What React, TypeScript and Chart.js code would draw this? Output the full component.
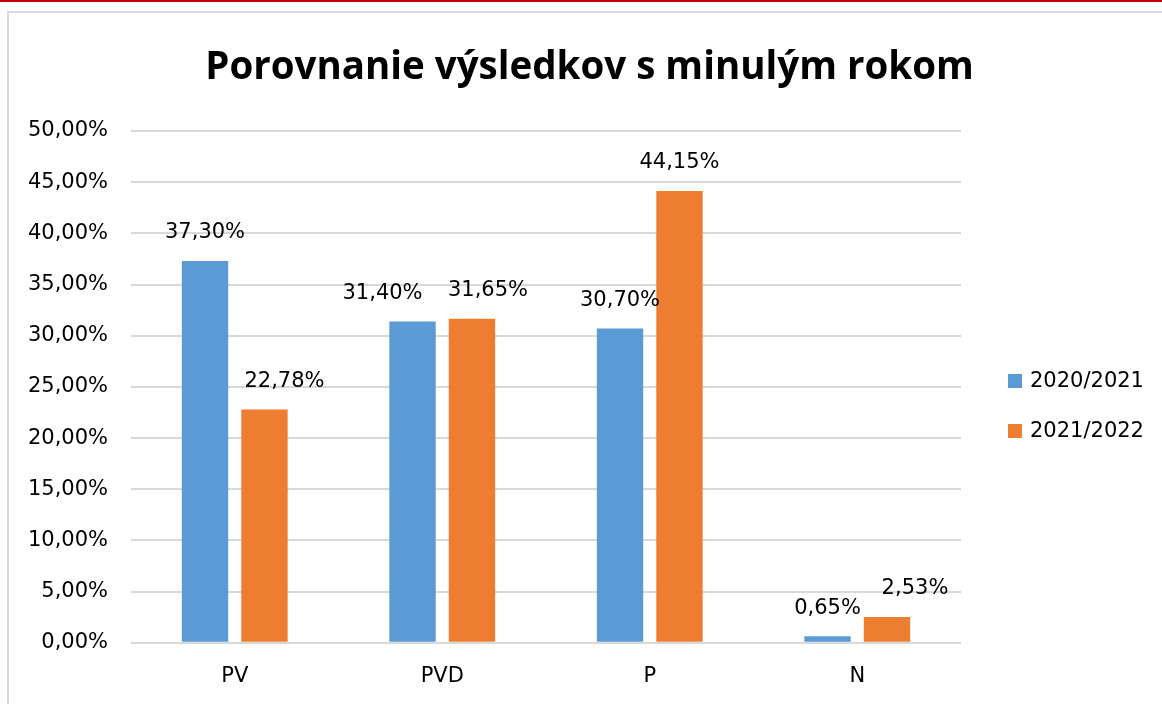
import React, { useEffect, useRef } from "react";
import { Chart, registerables } from "chart.js";

Chart.register(...registerables);

const TITLE = "Porovnanie výsledkov s minulým rokom";
const categories = ["PV", "PVD", "P", "N"];
const seriesNames = ["2020/2021", "2021/2022"];
const values2020_2021 = [37.3, 31.4, 30.7, 0.65];
const values2021_2022 = [22.78, 31.65, 44.15, 2.53];
const yMin = 0;
const yMax = 50;
const yStep = 5;

const COLORS = ["#5B9BD5", "#ED7D31"];
const LABEL_DX = [
  [0, -30, 0, 0],
  [20, 16, 0, 28],
];
const FONT = "'DejaVu Sans', sans-serif";
const TEXT_COLOR = "#000000";

const fmtPct = (v: number) => v.toFixed(2).replace(".", ",") + "%";

const decorPlugin = {
  id: "decor",
  afterDatasetsDraw(chart: any) {
    const ctx = chart.ctx;
    ctx.save();
    ctx.font = `21px ${FONT}`;
    ctx.fillStyle = TEXT_COLOR;
    ctx.textAlign = "center";
    ctx.textBaseline = "middle";
    chart.data.datasets.forEach((ds: any, i: number) => {
      const meta = chart.getDatasetMeta(i);
      meta.data.forEach((el: any, j: number) => {
        const v = ds.data[j];
        ctx.fillText(fmtPct(v), el.x + LABEL_DX[i][j], el.y - 28);
      });
    });
    ctx.restore();
  },
  afterDraw(chart: any) {
    const ctx = chart.ctx;
    const area = chart.chartArea;
    ctx.save();
    ctx.font = `bold 38.5px 'Open Sans', sans-serif`;
    ctx.fillStyle = "#000000";
    ctx.textAlign = "center";
    ctx.textBaseline = "middle";
    ctx.fillText(TITLE, chart.width / 2 + 4, 55);
    ctx.font = `21px ${FONT}`;
    ctx.textAlign = "left";
    chart.data.datasets.forEach((ds: any, i: number) => {
      const cy = 368 + i * 50;
      const bx = area.right + 47;
      ctx.fillStyle = ds.backgroundColor;
      ctx.fillRect(bx, cy - 7, 14, 14);
      ctx.fillStyle = TEXT_COLOR;
      ctx.fillText(ds.label, bx + 22, cy + 1);
    });
    ctx.restore();
  },
};

export default function App() {
  const canvasRef = useRef<HTMLCanvasElement | null>(null);

  useEffect(() => {
    if (!canvasRef.current) return;
    const chart = new Chart(canvasRef.current, {
      type: "bar",
      data: {
        labels: categories,
        datasets: [
          {
            label: seriesNames[0],
            data: values2020_2021,
            backgroundColor: COLORS[0],
            categoryPercentage: 0.573,
            barPercentage: 0.78,
          },
          {
            label: seriesNames[1],
            data: values2021_2022,
            backgroundColor: COLORS[1],
            categoryPercentage: 0.573,
            barPercentage: 0.78,
          },
        ],
      },
      options: {
        animation: false,
        responsive: true,
        maintainAspectRatio: false,
        layout: { padding: { top: 118, right: 201, bottom: -6, left: 0 } },
        plugins: {
          legend: { display: false },
          title: { display: false },
          tooltip: { enabled: false },
        },
        scales: {
          x: {
            grid: { display: false, drawTicks: false },
            border: { display: false },
            ticks: {
              padding: 21,
              color: TEXT_COLOR,
              font: { family: FONT, size: 21 },
            },
          },
          y: {
            min: yMin,
            max: yMax,
            grid: { color: "#D9D9D9", lineWidth: 2, drawTicks: false },
            border: { display: false },
            ticks: {
              stepSize: yStep,
              padding: 23,
              color: TEXT_COLOR,
              font: { family: FONT, size: 21 },
              callback: (v: any) => fmtPct(Number(v)),
            },
            afterFit: (scale: any) => {
              scale.width = 122;
            },
          },
        },
      },
      plugins: [decorPlugin],
    });
    return () => chart.destroy();
  }, []);

  return (
    <div style={{ position: "absolute", left: 0, top: 0, width: 1162, height: 704, background: "#ffffff", overflow: "hidden" }}>
      <div style={{ position: "absolute", left: 0, top: 0, width: 1162, height: 2, background: "#C00000" }} />
      <div
        style={{
          position: "absolute",
          left: 7,
          top: 11,
          width: 1160,
          height: 700,
          borderLeft: "2px solid #D9D9D9",
          borderTop: "2px solid #D9D9D9",
        }}
      />
      <div style={{ position: "absolute", left: 9, top: 13, width: 1153, height: 691 }}>
        <canvas ref={canvasRef} />
      </div>
    </div>
  );
}
